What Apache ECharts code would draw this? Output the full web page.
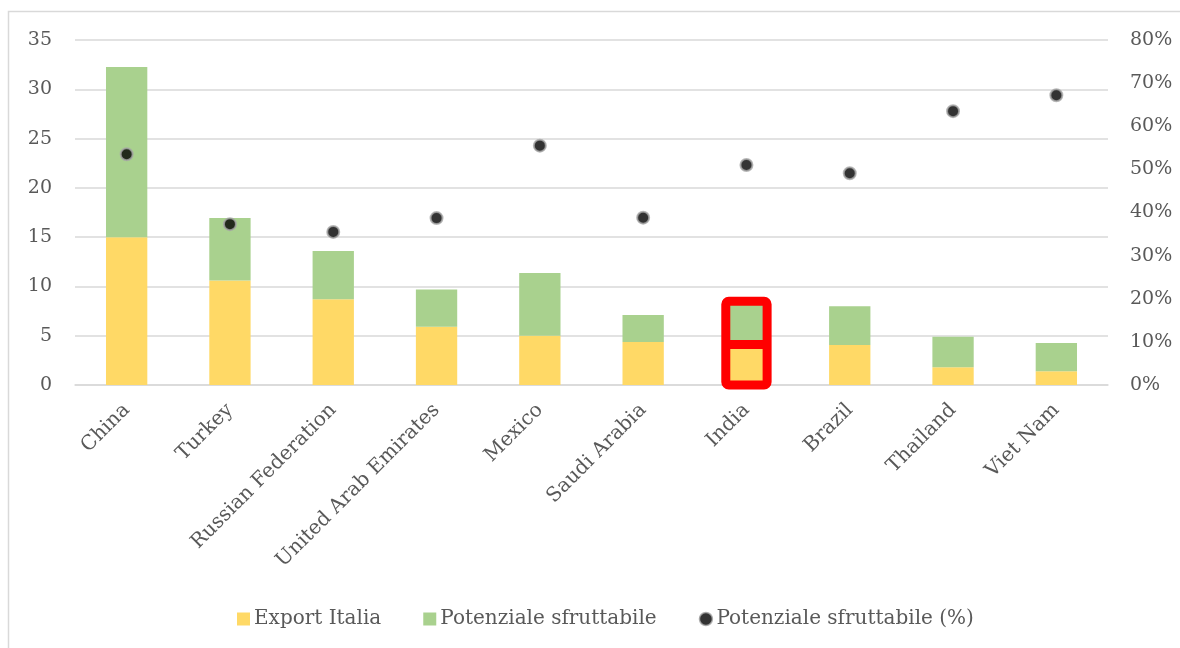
<!DOCTYPE html>
<html>
<head>
<meta charset="utf-8">
<script src="https://cdn.jsdelivr.net/npm/echarts@6/dist/echarts.min.js"></script>
<style>
html,body{margin:0;padding:0;background:#fff;}
#c{width:1180px;height:648px;}
</style>
</head>
<body>
<div id="c"></div>
<script>
const categories = ["China","Turkey","Russian Federation","United Arab Emirates","Mexico","Saudi Arabia","India","Brazil","Thailand","Viet Nam"];
const exportItalia = [15.0, 10.6, 8.7, 5.9, 5.0, 4.35, 4.1, 4.05, 1.8, 1.4];
const potenziale = [17.25, 6.35, 4.9, 3.8, 6.35, 2.75, 4.4, 3.95, 3.1, 2.85];
const potenzialePct = [0.535, 0.373, 0.355, 0.387, 0.555, 0.388, 0.51, 0.491, 0.635, 0.672];
const highlightIndex = 6;

const FONT = "DejaVu Serif";
const TXT = "#595959";
const YELLOW = "#FFD966";
const GREEN = "#A9D18E";
const BAR_RATIO = 0.4;

const chart = echarts.init(document.getElementById('c'));
chart.setOption({
  animation:false,
  backgroundColor:"#fff",
  graphic:[{type:'rect', shape:{x:8.5,y:11.5,width:1300,height:800}, style:{fill:null, stroke:'#d9d9d9', lineWidth:1.5}, silent:true, z:-10}],
  grid:{left:75, right:72, top:40, bottom:263, containLabel:false},
  legend:{
    bottom:14, left:232,
    itemGap:42, itemWidth:13, itemHeight:13,
    textStyle:{fontFamily:FONT, fontSize:20, color:TXT, padding:[0,0,0,-1]},
    data:[
      {name:"Export Italia", icon:'rect'},
      {name:"Potenziale sfruttabile", icon:'rect'},
      {name:"Potenziale sfruttabile (%)", icon:'circle', itemStyle:{color:'#000', borderColor:'#a6a6a6', borderWidth:1.5}}
    ]
  },
  xAxis:{
    type:'category', data:categories,
    axisLine:{show:true, lineStyle:{color:'#d9d9d9', width:1.5}},
    axisTick:{show:false},
    axisLabel:{rotate:45, interval:0, margin:22, fontFamily:FONT, fontSize:20, color:TXT}
  },
  yAxis:[
    {type:'value', min:0, max:35, interval:5,
     axisLine:{show:false}, axisTick:{show:false},
     splitLine:{lineStyle:{color:'#d9d9d9', width:1.5}},
     axisLabel:{margin:23, fontFamily:FONT, fontSize:19, color:TXT}},
    {type:'value', min:0, max:0.8, interval:0.1,
     axisLine:{show:false}, axisTick:{show:false}, splitLine:{show:false},
     axisLabel:{margin:22, fontFamily:FONT, fontSize:19, color:TXT,
       formatter:(v)=>Math.round(v*100)+'%'}}
  ],
  series:[
    {name:"Export Italia", type:'bar', stack:'a', barWidth:(BAR_RATIO*100)+'%',
     itemStyle:{color:YELLOW}, data:exportItalia},
    {name:"Potenziale sfruttabile", type:'bar', stack:'a', barWidth:(BAR_RATIO*100)+'%',
     itemStyle:{color:GREEN}, data:potenziale},
    {name:"highlight", type:'custom', z:4, silent:true,
     data:[[highlightIndex, exportItalia[highlightIndex], exportItalia[highlightIndex]+potenziale[highlightIndex]]],
     renderItem:function(params, api){
       const idx = api.value(0);
       const base = api.coord([idx, 0]);
       const mid = api.coord([idx, api.value(1)]);
       const top = api.coord([idx, api.value(2)]);
       const w = api.size([1,0])[0]*BAR_RATIO;
       const x0 = base[0]-w/2;
       return {type:'group', children:[
         {type:'rect', shape:{x:x0, y:top[1], width:w, height:base[1]-top[1], r:3},
          style:{fill:null, stroke:'#FF0000', lineWidth:9}},
         {type:'line', shape:{x1:x0, y1:mid[1], x2:x0+w, y2:mid[1]},
          style:{stroke:'#FF0000', lineWidth:9}}
       ]};
     }},
    {name:"Potenziale sfruttabile (%)", type:'scatter', yAxisIndex:1,
     symbol:'circle', symbolSize:12, z:5,
     itemStyle:{color:'#000', borderColor:'#a6a6a6', borderWidth:2},
     data:potenzialePct}
  ]
});
</script>
</body>
</html>
